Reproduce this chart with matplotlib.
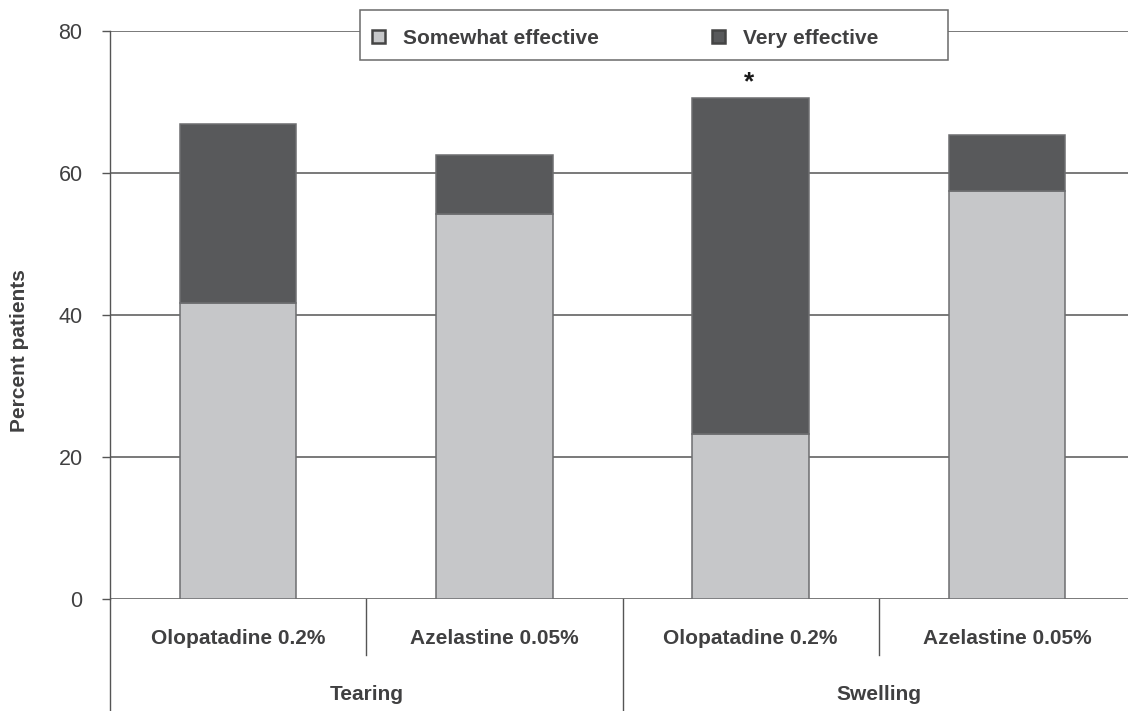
import matplotlib
matplotlib.use('Agg')
import matplotlib.pyplot as plt
from matplotlib.patches import Rectangle
import numpy as np

plt.rcParams['font.family'] = ['Liberation Sans', 'DejaVu Sans']

# values (percent of patients)
treatments = ['Olopatadine 0.2%', 'Azelastine 0.05%', 'Olopatadine 0.2%', 'Azelastine 0.05%']
symptoms = ['Tearing', 'Swelling']
somewhat_effective = [41.7, 54.2, 23.2, 57.5]
very_effective = [25.2, 8.4, 47.4, 7.9]
significant = [False, False, True, False]
yticks = [0, 20, 40, 60, 80]

light = '#c6c7c9'
dark = '#58595b'
edge = '#6d6e70'
line_col = '#555555'
text_col = '#404041'

fig = plt.figure(figsize=(11.28, 7.11), dpi=100)
ax = fig.add_axes([110 / 1128, 1 - 599 / 711, 1025 / 1128, 568 / 711])

x = np.arange(len(treatments)) + 0.5
b1 = ax.bar(x, somewhat_effective, width=0.455, color=light, edgecolor=edge,
            linewidth=1.1, label='Somewhat effective', zorder=2)
b2 = ax.bar(x, very_effective, width=0.455, bottom=somewhat_effective, color=dark,
            edgecolor=edge, linewidth=1.1, label='Very effective', zorder=2)

# asterisk above significant bar
for xi, s, v, sig in zip(x, somewhat_effective, very_effective, significant):
    if sig:
        ax.annotate('*', xy=(xi, s + v), xytext=(-1, 6), textcoords='offset points',
                    ha='center', va='baseline', fontsize=19, fontweight='bold', color='#1a1a1a')

ax.set_xlim(0, 4)
ax.set_ylim(0, 80)
ax.set_yticks(yticks)
ax.set_xticks([])
ax.yaxis.grid(True, color=line_col, linewidth=1.1)
ax.set_axisbelow(True)
ax.tick_params(axis='y', length=5.8, width=1.0, color=line_col, pad=14,
               labelsize=15.5, labelcolor=text_col)

for side in ['top', 'right', 'bottom']:
    ax.spines[side].set_visible(False)
ax.spines['left'].set_color(line_col)
ax.spines['left'].set_linewidth(1.0)

ax.set_ylabel('Percent patients', fontsize=15, fontweight='bold', color=text_col, va='center')
ax.yaxis.set_label_coords(-0.088, 0.438)

# two-level category axis below the plot
ax.plot([0, 0], [0, -15.6], color=line_col, lw=1.0, clip_on=False)
for i in range(1, len(treatments)):
    depth = -15.6 if i % 2 == 0 else -7.9
    ax.plot([i, i], [0, depth], color=line_col, lw=1.0, clip_on=False)

for xi, name in zip(x, treatments):
    ax.text(xi, -5.5, name, ha='center', va='center', fontsize=15,
            fontweight='bold', color=text_col, clip_on=False)
for gi, name in enumerate(symptoms):
    ax.text(gi * 2 + 1, -13.5, name, ha='center', va='center', fontsize=15,
            fontweight='bold', color=text_col, clip_on=False)

# legend with its own framed box over the top gridline
fig.add_artist(Rectangle((360 / 1128, 1 - 60 / 711), 588 / 1128, 50 / 711,
                         transform=fig.transFigure, facecolor='white',
                         edgecolor='#6a6a6a', linewidth=1.1, zorder=3))
leg = fig.legend(handles=[b1, b2], loc='center left', bbox_to_anchor=(372 / 1128, 1 - 38.5 / 711),
                 ncol=2, frameon=False, borderpad=0, borderaxespad=0,
                 handlelength=0.62, handleheight=0.62, handletextpad=0.86, columnspacing=5.45,
                 prop={'size': 15, 'weight': 'bold'}, labelcolor=text_col)
for h in leg.legend_handles:
    h.set_edgecolor('#444444')
    h.set_linewidth(1.8)

fig.savefig('out.png', dpi=100)
